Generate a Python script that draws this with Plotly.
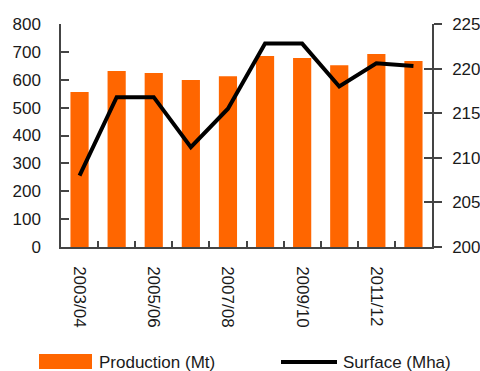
import plotly.graph_objects as go

# Marketing years
seasons = ["2003/04", "2004/05", "2005/06", "2006/07", "2007/08",
           "2008/09", "2009/10", "2010/11", "2011/12", "2012/13"]
# Production in million tonnes (left axis)
production_mt = [556, 631, 624, 599, 613, 685, 678, 652, 692, 667]
# Harvested surface in million hectares (right axis)
surface_mha = [208.0, 216.8, 216.8, 211.2, 215.5, 222.8, 222.8, 218.0, 220.6, 220.3]

# Only every second season gets a label
tick_text = [s if i % 2 == 0 else "" for i, s in enumerate(seasons)]

ORANGE = "#FF6600"
AXIS = "#444444"
TEXT = "#1a1a1a"
FONT = "Liberation Sans, Arial, sans-serif"

W, H = 480, 371
L, R, T, B = 61, 48, 24, 124
PW, PH = W - L - R, H - T - B


def px(x):
    return (x - L) / PW


def py(y):
    return (H - B - y) / PH


fig = go.Figure()
fig.add_trace(go.Bar(x=seasons, y=production_mt, name="Production (Mt)",
                     marker=dict(color=ORANGE, line=dict(width=0)),
                     width=0.49, yaxis="y", showlegend=False))
fig.add_trace(go.Scatter(x=seasons, y=surface_mha, name="Surface (Mha)",
                         mode="lines", line=dict(color="black", width=4),
                         yaxis="y2", showlegend=False))
# invisible helper trace so the inner right-axis ticks are drawn
fig.add_trace(go.Scatter(x=seasons, y=surface_mha, mode="lines",
                         line=dict(width=0), opacity=0, hoverinfo="skip",
                         yaxis="y3", showlegend=False))

fig.update_layout(
    width=W, height=H,
    margin=dict(l=L, r=R, t=T, b=B, pad=0, autoexpand=False),
    plot_bgcolor="white", paper_bgcolor="white",
    font=dict(family=FONT, size=17, color=TEXT),
    bargap=0.51,
    xaxis=dict(
        type="category", tickvals=seasons, ticktext=tick_text,
        tickson="boundaries", ticks="inside", ticklen=6, tickwidth=1.5,
        tickcolor=AXIS, tickangle=90, showline=True, linecolor=AXIS,
        linewidth=1.5, showgrid=False, zeroline=False, automargin=False,
        ticklabelstandoff=14,
        tickfont=dict(family=FONT, size=17, color=TEXT),
    ),
    yaxis=dict(
        range=[0, 800], dtick=100, ticks="inside", ticklen=8, tickwidth=1.5,
        tickcolor=AXIS, showline=True, linecolor=AXIS, linewidth=1.5,
        showgrid=False, zeroline=False, ticklabelstandoff=15,
        automargin=False,
        tickfont=dict(family=FONT, size=17, color=TEXT),
    ),
    yaxis2=dict(
        range=[200, 225], dtick=5, overlaying="y", side="right",
        ticks="outside", ticklen=8, tickwidth=1.5, tickcolor=AXIS,
        showline=True, linecolor=AXIS, linewidth=1.5, showgrid=False,
        zeroline=False, ticklabelstandoff=7, automargin=False,
        tickfont=dict(family=FONT, size=17, color=TEXT),
    ),
    yaxis3=dict(
        range=[200, 225], dtick=5, overlaying="y", side="right",
        ticks="inside", ticklen=8, tickwidth=1.5, tickcolor=AXIS,
        showline=False, showgrid=False, zeroline=False,
        showticklabels=False, automargin=False,
    ),
)

# Legend drawn below the plot
fig.add_shape(type="rect", xref="paper", yref="paper",
              x0=px(39), x1=px(92), y0=py(369), y1=py(354),
              fillcolor=ORANGE, line=dict(width=0))
fig.add_annotation(xref="paper", yref="paper", x=px(97), y=py(362),
                   text="Production (Mt)", showarrow=False,
                   xanchor="left", yanchor="middle",
                   font=dict(family=FONT, size=17, color=TEXT))
fig.add_shape(type="line", xref="paper", yref="paper",
              x0=px(281), x1=px(337), y0=py(362), y1=py(362),
              line=dict(color="black", width=4))
fig.add_annotation(xref="paper", yref="paper", x=px(341), y=py(362),
                   text="Surface (Mha)", showarrow=False,
                   xanchor="left", yanchor="middle",
                   font=dict(family=FONT, size=17, color=TEXT))

fig.write_html("out.html")
